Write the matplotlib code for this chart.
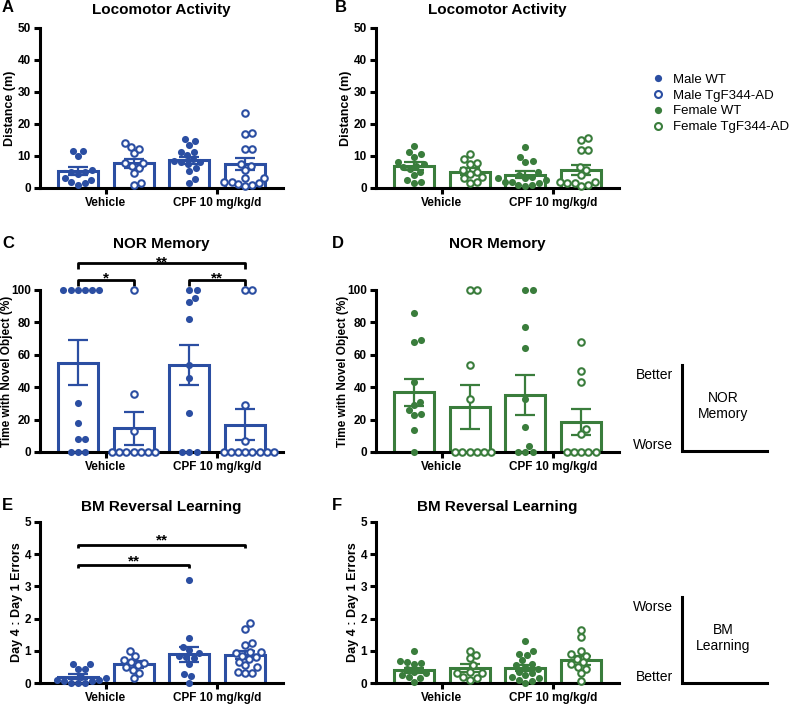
import numpy as np
import matplotlib.pyplot as plt
from matplotlib.lines import Line2D

plt.rcParams['font.family'] = ['Liberation Sans', 'DejaVu Sans']

W, H = 792, 707
blue = '#2b4ea2'
green = '#3a7d3c'

groups = ['Vehicle', 'CPF 10 mg/kg/d']
legend_labels = ['Male WT', 'Male TgF344-AD', 'Female WT', 'Female TgF344-AD']

# bar order: Vehicle WT, Vehicle TgF344-AD, CPF WT, CPF TgF344-AD
# A - male locomotor (m)
loco_male_pts = [
    [11.5, 10.0, 11.5, 5.5, 5.0, 4.5, 5.0, 3.0, 2.5, 1.5, 2.0, 1.0],
    [12.9, 10.8, 12.2, 14.0, 6.2, 7.7, 7.9, 4.6, 1.5, 1.0, 7.0],
    [14.7, 15.2, 13.4, 11.3, 11.3, 10.3, 9.0, 8.5, 8.0, 7.5, 6.1, 5.3, 2.7, 1.5, 8.0],
    [23.5, 17.1, 17.0, 12.1, 12.1, 7.5, 5.6, 3.0, 2.0, 1.5, 2.0, 3.0, 0.8, 1.2, 0.5, 7.0],
]
loco_male_mean = [5.3, 7.7, 8.7, 7.6]
loco_male_sem = [1.2, 1.5, 1.1, 1.9]

# B - female locomotor (m)
loco_female_pts = [
    [13.2, 11.3, 10.6, 9.8, 7.5, 7.0, 6.5, 6.0, 4.1, 5.0, 2.0, 1.5, 2.5, 8.0],
    [9.0, 7.5, 7.9, 10.6, 5.5, 5.0, 4.5, 3.0, 2.0, 1.5, 3.5],
    [12.9, 9.6, 8.5, 8.2, 5.0, 4.0, 3.5, 3.0, 2.5, 2.0, 1.5, 1.0, 0.5, 1.0, 2.0, 3.0],
    [15.5, 15.0, 12.0, 12.0, 6.5, 5.5, 4.0, 2.0, 1.5, 1.0, 1.5, 2.0, 0.5],
]
loco_female_mean = [6.9, 5.1, 4.2, 5.6]
loco_female_sem = [1.2, 1.0, 1.2, 1.6]

# C - male NOR (%)
nor_male_pts = [
    [100, 100, 100, 100, 100, 100, 30.5, 18, 8, 8, 0, 0, 0],
    [100, 36, 13, 0, 0, 0, 0, 0, 0, 0],
    [100, 100, 95, 92.5, 82, 54, 45.5, 24, 0, 0, 0],
    [100, 100, 29, 7, 0, 0, 0, 0, 0, 0, 0, 0],
]
nor_male_mean = [55.1, 14.6, 53.7, 16.7]
nor_male_sem = [13.9, 10.3, 12.6, 9.6]

# D - female NOR (%)
nor_female_pts = [
    [85.5, 69, 68, 43, 31, 26, 29, 23, 23.5, 13.5, 0],
    [100, 100, 54, 33, 0, 0, 0, 0, 0, 0],
    [100, 100, 77, 64.5, 33, 15.5, 4, 0, 0, 0],
    [68, 50, 43, 14.5, 11, 0, 0, 0, 0, 0],
]
nor_female_mean = [36.8, 28.0, 35.2, 18.3]
nor_female_sem = [8.5, 13.5, 12.4, 8.0]

# E - male BM reversal (ratio)
bm_male_pts = [
    [0.6, 0.6, 0.45, 0.45, 0.2, 0.15, 0.1, 0.05, 0.0, 0.0, 0.1, 0.05, 0.0],
    [0.84, 1.0, 0.71, 0.66, 0.56, 0.40, 0.30, 0.15, 0.5, 0.62],
    [3.2, 1.39, 1.11, 1.03, 0.92, 0.85, 0.77, 0.8, 0.6, 0.28, 0.22, 0.0],
    [1.85, 1.68, 1.18, 1.23, 0.97, 0.97, 0.92, 0.82, 0.75, 0.66, 0.56, 0.35, 0.30, 0.32, 0.5, 0.85],
]
bm_male_mean = [0.2, 0.58, 0.89, 0.87]
bm_male_sem = [0.08, 0.1, 0.23, 0.11]

# F - female BM reversal (ratio)
bm_female_pts = [
    [1.0, 0.66, 0.68, 0.59, 0.61, 0.42, 0.3, 0.2, 0.04, 0.15, 0.35, 0.25],
    [1.0, 0.87, 0.77, 0.55, 0.35, 0.3, 0.15, 0.2, 0.1, 0.3],
    [1.3, 1.0, 0.9, 0.87, 0.7, 0.6, 0.56, 0.5, 0.45, 0.35, 0.3, 0.25, 0.2, 0.1, 0.05, 0.0, 0.15],
    [1.65, 1.42, 1.0, 0.9, 0.85, 0.75, 0.65, 0.6, 0.5, 0.45, 0.3, 0.05],
]
bm_female_mean = [0.40, 0.46, 0.46, 0.70]
bm_female_sem = [0.08, 0.12, 0.09, 0.13]

fig = plt.figure(figsize=(W / 100, H / 100), dpi=100)


def px_axes(left, top, right, bottom):
    return fig.add_axes([left / W, 1 - bottom / H, (right - left) / W, (bottom - top) / H])


def swarm(ax, x0, vals, diam):
    # simple beeswarm in pixel space
    p = ax.transData.transform(np.column_stack([np.full(len(vals), x0), vals]))
    ypx = p[:, 1]
    xscale = ax.transData.transform((1, 0))[0] - ax.transData.transform((0, 0))[0]
    placed = []
    offs = np.zeros(len(vals))
    for i in np.argsort(ypx):
        cands = [0.0]
        for (xp, yp) in placed:
            dy = ypx[i] - yp
            if abs(dy) < diam:
                dx = np.sqrt(diam ** 2 - dy ** 2)
                cands += [xp + dx, xp - dx]
        cands.sort(key=abs)
        for c in cands:
            if all((c - xp) ** 2 + (ypx[i] - yp) ** 2 >= diam ** 2 - 1e-6 for xp, yp in placed):
                offs[i] = c
                placed.append((c, ypx[i]))
                break
    return x0 + offs / xscale


def panel(ax, pts, means, sems, color, ymax, ystep, ylabel, title, tpad, lab_x, lab_size=9):
    x = np.arange(4)
    ax.set_xlim(-0.68, 3.68)
    ax.set_ylim(0, ymax)
    ax.bar(x, means, width=0.72, facecolor='white', edgecolor=color, linewidth=2.2, zorder=2)
    ax.errorbar(x, means, yerr=sems, fmt='none', ecolor=color, elinewidth=1.6,
                capsize=7, capthick=1.6, zorder=3)
    for i in range(4):
        xs = swarm(ax, i, np.array(pts[i], float), 7.2)
        if i % 2 == 0:
            ax.scatter(xs, pts[i], s=26, color=color, zorder=4, clip_on=False, linewidths=0)
        else:
            ax.scatter(xs, pts[i], s=22, facecolor='white', edgecolor=color,
                       linewidths=1.5, zorder=4, clip_on=False)
    for s in ['top', 'right']:
        ax.spines[s].set_visible(False)
    for s in ['left', 'bottom']:
        ax.spines[s].set_linewidth(2.2)
    ax.set_yticks(np.arange(0, ymax + ystep / 2, ystep))
    ax.set_xticks([0.5, 2.5])
    ax.set_xticklabels(groups)
    ax.tick_params(width=2.2, length=4, pad=2.5, labelsize=8.5)
    for t in ax.get_xticklabels() + ax.get_yticklabels():
        t.set_fontweight('bold')
    ax.set_ylabel(ylabel, fontsize=lab_size, fontweight='bold')
    ax.yaxis.set_label_coords(lab_x, 0.5)
    ax.set_title(title, fontsize=11, fontweight='bold', pad=tpad)


def bracket(ax, x1, x2, y, drop, label, ty):
    ax.plot([x1, x1, x2, x2], [y - drop, y, y, y - drop], color='black', lw=2, clip_on=False,
            solid_capstyle='butt')
    ax.text((x1 + x2) / 2, ty, label, ha='center', va='baseline', fontsize=11, fontweight='bold')


cols = [(40, 283), (376, 619)]
rows = [(28, 188), (290, 452), (522, 683)]

axA = px_axes(cols[0][0], rows[0][0], cols[0][1], rows[0][1])
axB = px_axes(cols[1][0], rows[0][0], cols[1][1], rows[0][1])
axC = px_axes(cols[0][0], rows[1][0], cols[0][1], rows[1][1])
axD = px_axes(cols[1][0], rows[1][0], cols[1][1], rows[1][1])
axE = px_axes(cols[0][0], rows[2][0], cols[0][1], rows[2][1])
axF = px_axes(cols[1][0], rows[2][0], cols[1][1], rows[2][1])

panel(axA, loco_male_pts, loco_male_mean, loco_male_sem, blue, 50, 10,
      'Distance (m)', 'Locomotor Activity', 10, -0.1)
panel(axB, loco_female_pts, loco_female_mean, loco_female_sem, green, 50, 10,
      'Distance (m)', 'Locomotor Activity', 10, -0.1)
panel(axC, nor_male_pts, nor_male_mean, nor_male_sem, blue, 100, 20,
      'Time with Novel Object (%)', 'NOR Memory', 30, -0.112, 8.5)
panel(axD, nor_female_pts, nor_female_mean, nor_female_sem, green, 100, 20,
      'Time with Novel Object (%)', 'NOR Memory', 30, -0.112, 8.5)
panel(axE, bm_male_pts, bm_male_mean, bm_male_sem, blue, 5, 1,
      'Day 4 : Day 1 Errors', 'BM Reversal Learning', 8, -0.07)
panel(axF, bm_female_pts, bm_female_mean, bm_female_sem, green, 5, 1,
      'Day 4 : Day 1 Errors', 'BM Reversal Learning', 8, -0.07)

# significance
bracket(axC, 0, 3, 116.7, 3.5, '**', 114.6)
bracket(axC, 0, 1, 106, 3.5, '*', 104.5)
bracket(axC, 2, 3, 106, 3.5, '**', 104.5)
bracket(axE, 0, 3, 4.29, 0.09, '**', 4.31)
bracket(axE, 0, 2, 3.66, 0.09, '**', 3.65)

# panel letters
for letter, xp, yp in [('A', 2, 8), ('B', 335, 8), ('C', 2, 243),
                       ('D', 332, 243), ('E', 2, 505), ('F', 332, 505)]:
    fig.text(xp / W, 1 - yp / H, letter, fontsize=12, fontweight='bold', va='center', ha='left')

# legend
handles = [
    Line2D([], [], marker='o', ls='none', color=blue, markersize=5.2, markeredgewidth=0),
    Line2D([], [], marker='o', ls='none', markerfacecolor='white', markeredgecolor=blue,
           markersize=5, markeredgewidth=1.5),
    Line2D([], [], marker='o', ls='none', color=green, markersize=5.2, markeredgewidth=0),
    Line2D([], [], marker='o', ls='none', markerfacecolor='white', markeredgecolor=green,
           markersize=5, markeredgewidth=1.5),
]
fig.legend(handles, legend_labels, loc='upper left', bbox_to_anchor=(651.5 / W, 1 - 73.5 / H),
           frameon=False, fontsize=9.5, handlelength=1.0, handletextpad=0.65,
           labelspacing=0.27, borderpad=0, borderaxespad=0)

# schematic guides on the right
ov = fig.add_axes([0, 0, 1, 1])
ov.set_xlim(0, W)
ov.set_ylim(H, 0)
ov.axis('off')
for top, bot, upper, lower, name in [(365, 451, 'Better', 'Worse', 'NOR\nMemory'),
                                     (597, 683, 'Worse', 'Better', 'BM\nLearning')]:
    ov.plot([682, 682, 767], [top, bot, bot], color='black', lw=2.2, solid_joinstyle='miter')
    ov.text(673, top + 10, upper, ha='right', va='center', fontsize=10)
    ov.text(673, bot - 6, lower, ha='right', va='center', fontsize=10)
    ov.text(723, (top + bot) / 2 - 2, name, ha='center', va='center', fontsize=10,
            linespacing=1.1)

fig.savefig('out.png', dpi=100)
